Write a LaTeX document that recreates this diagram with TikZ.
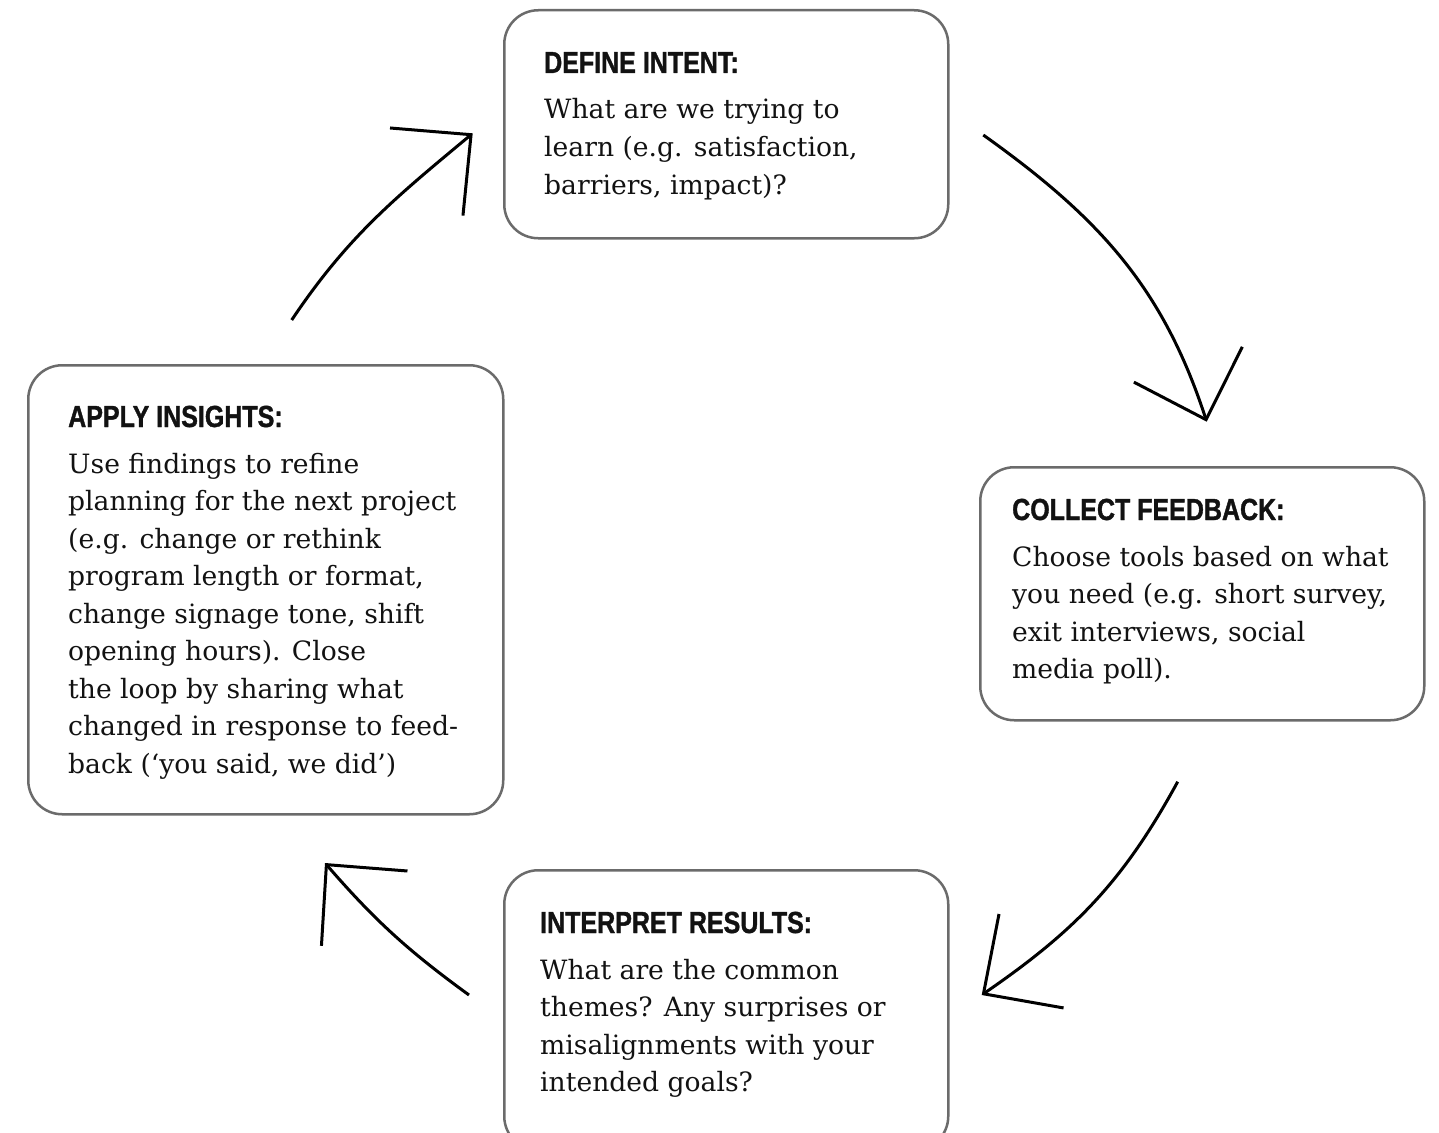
\documentclass[tikz,border=0pt]{standalone}
\usepackage{fontspec}
\setmainfont{DejaVu Serif}
\newfontfamily\headfont[FakeStretch=0.82, FakeBold=1.2]{Liberation Sans}
\usetikzlibrary{arrows.meta}

\definecolor{boxline}{HTML}{6B6B6B}

% heading line plus body lines, first baseline = heading baseline
\newcommand{\stagebody}[2]{%
  \parbox[t]{440pt}{\raggedright\fontsize{26.6}{37.5}\selectfont
    {\headfont\bfseries\fontsize{30.5}{37.5}\selectfont #1}\par
    \vspace{8.5pt}#2}}

\begin{document}
\begin{tikzpicture}[x=1pt, y=-1pt, >={Straight Barb[length=58pt, width=114pt, sharp]},
    stage/.style={draw=boxline, line width=2.5pt, rounded corners=34pt,
      anchor=north west, inner sep=0pt},
    stagetext/.style={anchor=base west, inner sep=0pt, text=black!93},
    cyclearrow/.style={->, line width=3pt}]
  \useasboundingbox (0,0) rectangle (1439,1132);
  \fill[white] (0,0) rectangle (1439,1132);
  \clip (0,0) rectangle (1439,1132);

  % the four stages
  \node[stage, minimum width=444pt, minimum height=228pt] (define) at (503,9) {};
  \node[stage, minimum width=444pt, minimum height=253pt] (collect) at (979,466) {};
  \node[stage, minimum width=444pt, minimum height=280pt] (interpret) at (503,869) {};
  \node[stage, minimum width=475pt, minimum height=449pt] (apply) at (27,364) {};

  \node[stagetext] (define text) at ([shift={(41,64)}]define.north west)
    {\stagebody{DEFINE INTENT:}{What are we trying to\\ learn (e.g. satisfaction,\\ barriers, impact)?}};
  \node[stagetext] (collect text) at ([shift={(33,54)}]collect.north west)
    {\stagebody{COLLECT FEEDBACK:}{Choose tools based on what\\ you need (e.g. short survey,\\ exit interviews, social\\ media poll).}};
  \node[stagetext] (interpret text) at ([shift={(37,64)}]interpret.north west)
    {\stagebody{INTERPRET RESULTS:}{What are the common\\ themes? Any surprises or\\ misalignments with your\\ intended goals?}};
  \node[stagetext] (apply text) at ([shift={(41,63)}]apply.north west)
    {\stagebody{APPLY INSIGHTS:}{Use findings to refine\\ planning for the next project\\ (e.g. change or rethink\\ program length or format,\\ change signage tone, shift\\ opening hours). Close\\ the loop by sharing what\\ changed in response to feed-\\ back (`you said, we did')}};

  % arrow ends between the boxes
  \coordinate (apply out) at (291.7,320);
  \coordinate (define in) at (472.7,133.3);
  \coordinate (define out) at (983.3,135);
  \coordinate (collect in) at (1206.7,421.7);
  \coordinate (collect out) at (1177.7,781.7);
  \coordinate (interpret in) at (981.7,995);
  \coordinate (interpret out) at (469,995);
  \coordinate (apply in) at (325,863);

  % clockwise cycle
  \draw[cyclearrow] (apply out) .. controls (348,236) and (395,198) .. (define in);
  \draw[cyclearrow] (define out) .. controls (1098.6,217.2) and (1162.9,287) .. (collect in);
  \draw[cyclearrow] (collect out) .. controls (1123.2,881.8) and (1074.6,931.2) .. (interpret in);
  \draw[cyclearrow] (interpret out) .. controls (407.5,950.3) and (374.9,920.4) .. (apply in);
\end{tikzpicture}
\end{document}
